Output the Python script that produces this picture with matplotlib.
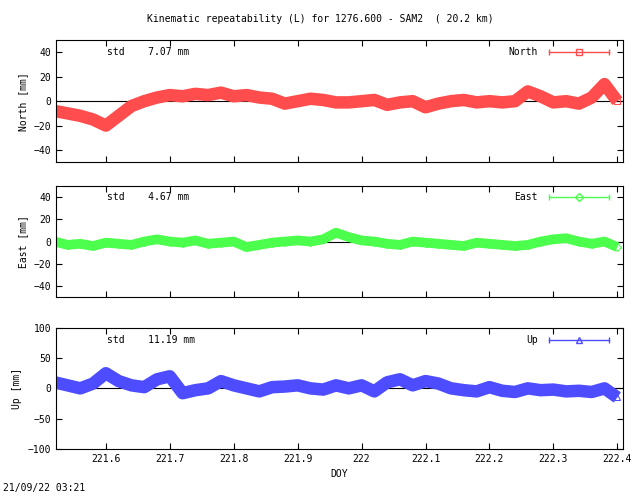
import numpy as np
import matplotlib.pyplot as plt

plt.rcParams['font.family'] = 'DejaVu Sans Mono'
plt.rcParams['font.size'] = 7

doy = np.round(np.arange(221.52, 222.401, 0.02), 2)

north = [-8, -10, -12, -15, -20, -12, -4, 0, 3, 5, 4, 6, 5, 7, 4, 5, 3, 2, -2, 0, 2, 1, -1,
         -1, 0, 1, -3, -1, 0, -5, -2, 0, 1, -1, 0, -1, 0, 8, 4, -1, 0, -2, 3, 14, 0]
east = [0, -3, -2, -4, -1, -2, -3, 0, 2, 0, -1, 1, -2, -1, 0, -5, -3, -1, 0, 1, 0, 2, 8,
        4, 1, 0, -2, -3, 0, -1, -2, -3, -4, -1, -2, -3, -4, -3, 0, 2, 3, 0, -2, 0, -5]
up = [10, 5, 0, 8, 25, 12, 5, 2, 15, 20, -8, -3, 0, 12, 5, 0, -5, 2, 3, 5, 0, -2, 5,
      0, 5, -5, 10, 15, 5, 12, 8, 0, -3, -5, 2, -4, -6, 0, -3, -2, -5, -4, -6, 0, -15]

panels = [
    ('North', north, '#ff4d4d', 's', 7.07, (-50, 50), [-40, -20, 0, 20, 40], 0.673, 0.246, 9),
    ('East', east, '#4dff4d', 'D', 4.67, (-50, 50), [-40, -20, 0, 20, 40], 0.401, 0.224, 7),
    ('Up', up, '#4d4dff', '^', 11.19, (-100, 100), [-100, -50, 0, 50, 100], 0.095, 0.244, 9),
]

fig = plt.figure(figsize=(6.4, 4.96), dpi=100)
for i, (name, vals, col, mk, std, ylim, yt, bot, h, lw) in enumerate(panels):
    ax = fig.add_axes([0.0875, bot, 0.886, h])
    ax.axhline(0, color='black', lw=0.8)
    ax.plot(doy, vals, color=col, lw=lw, solid_capstyle='butt')
    ax.plot(doy, vals, color=col, lw=0, marker=mk, ms=4, mfc='none', mew=0.8)
    ax.set_xlim(221.522, 222.409)
    ax.set_ylim(*ylim)
    ax.set_yticks(yt)
    ax.set_xticks([221.6, 221.7, 221.8, 221.9, 222, 222.1, 222.2, 222.3, 222.4])
    ax.set_xticklabels(['221.6', '221.7', '221.8', '221.9', '222', '222.1', '222.2', '222.3', '222.4'] if i == 2 else [])
    ax.tick_params(direction='in', top=True, right=True, length=4)
    ax.set_ylabel(name + ' [mm]')
    ax.text(0.09, 0.9, 'std    %.2f mm' % std, transform=ax.transAxes, va='center')
    ax.text(0.85, 0.9, name, transform=ax.transAxes, va='center', ha='right')
    ax.plot([0.87, 0.9225, 0.975], [0.9, 0.9, 0.9], transform=ax.transAxes, color=col, lw=1,
            marker=mk, markevery=[1], ms=4, mfc='none')
    ax.plot([0.87, 0.975], [0.9, 0.9], transform=ax.transAxes, color=col, lw=0,
            marker='|', ms=5)
    if i == 2:
        ax.set_xlabel('DOY')

fig.text(0.5, 0.955, 'Kinematic repeatability (L) for 1276.600 - SAM2  ( 20.2 km)', ha='center')
fig.text(0.005, 0.01, '21/09/22 03:21')
fig.savefig('out.png', dpi=100)
